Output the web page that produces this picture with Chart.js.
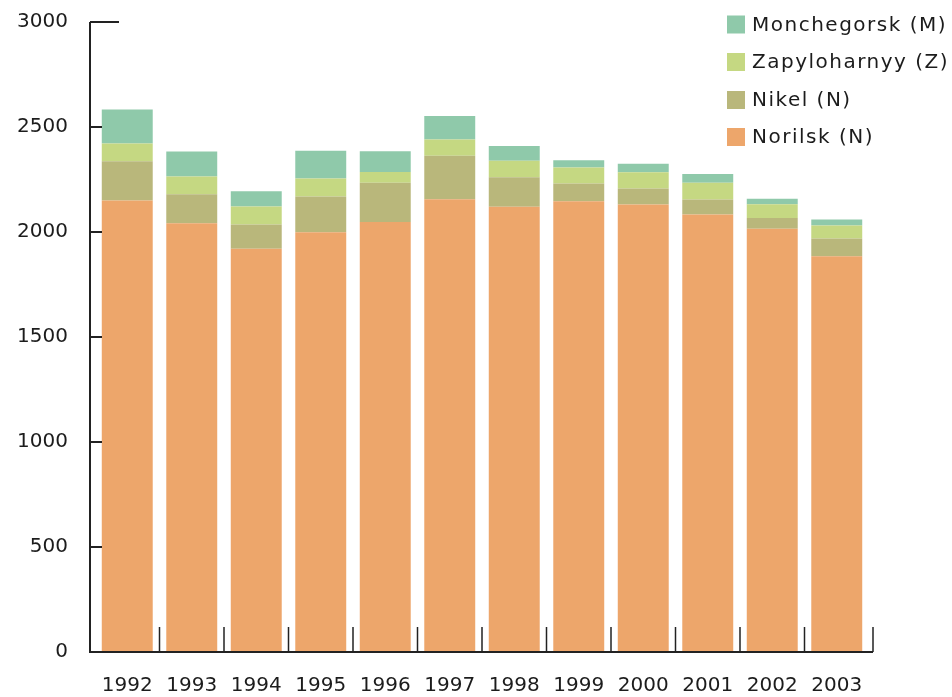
<!DOCTYPE html>
<html>
<head>
<meta charset="utf-8">
<script src="https://cdn.jsdelivr.net/npm/chart.js@4/dist/chart.umd.min.js"></script>
<style>
  body { margin: 0; background: #fff; }
  #wrap { width: 952px; height: 697px; position: relative; }
</style>
</head>
<body>
<div id="wrap"><canvas id="chart"></canvas></div>
<script>
// values
var years = ['1992', '1993', '1994', '1995', '1996', '1997', '1998', '1999', '2000', '2001', '2002', '2003'];
var norilsk = [2150, 2042, 1920, 1999, 2048, 2156, 2120, 2147, 2131, 2083, 2015, 1885];
var nikel = [187, 138, 116, 170, 186, 207, 141, 84, 76, 72, 52, 84];
var zapolyarny = [84, 84, 86, 86, 52, 78, 78, 76, 78, 80, 65, 62];
var monchegorsk = [162, 119, 72, 132, 98, 111, 70, 35, 40, 41, 26, 29];
var yTicks = [0, 500, 1000, 1500, 2000, 2500, 3000];

var seriesNames = ['Norilsk (N)', 'Nikel (N)', 'Zapyloharnyy (Z)', 'Monchegorsk (M)'];
var seriesColors = ['#eda66b', '#b9b77b', '#c5d882', '#8fc9aa'];
var seriesData = [norilsk, nikel, zapolyarny, monchegorsk];

var FONT = 'DejaVu Sans';
var INK = '#1c1c1c';

var datasets = seriesData.map(function (d, i) {
  return {
    label: seriesNames[i],
    data: d,
    backgroundColor: seriesColors[i],
    borderWidth: 0,
    barPercentage: 0.79,
    categoryPercentage: 1
  };
});

// axis lines + ticks like the original (inside ticks, open frame)
var axesPlugin = {
  id: 'axes',
  afterDatasetsDraw: function (chart) {
    var ctx = chart.ctx, a = chart.chartArea;
    var y = chart.scales.y;
    var left = a.left - 5, bottom = a.bottom, right = a.right + 4;
    ctx.save();
    ctx.strokeStyle = '#222';
    ctx.lineWidth = 2;
    ctx.beginPath();
    ctx.moveTo(left, y.getPixelForValue(3000));
    ctx.lineTo(left, bottom);
    ctx.lineTo(right, bottom);
    ctx.stroke();
    // y ticks
    yTicks.forEach(function (v) {
      if (v === 0) return;
      var py = Math.round(y.getPixelForValue(v));
      ctx.beginPath();
      ctx.moveTo(left, py);
      ctx.lineTo(v === 3000 ? left + 29 : left + 12, py);
      ctx.stroke();
    });
    // x ticks between categories
    ctx.lineWidth = 1.5;
    var step = (a.right - a.left) / years.length;
    for (var i = 1; i <= years.length; i++) {
      var px = i === years.length ? right : a.left + step * i;
      ctx.beginPath();
      ctx.moveTo(px, bottom);
      ctx.lineTo(px, bottom - 25);
      ctx.stroke();
    }
    ctx.restore();
  }
};

// legend in the top-right corner, top item = top of the stack
var legendPlugin = {
  id: 'cornerLegend',
  afterDraw: function (chart) {
    var ctx = chart.ctx;
    var rows = [24.5, 62, 100, 137];
    ctx.save();
    ctx.font = '20px "' + FONT + '"';
    ctx.textBaseline = 'middle';
    ctx.textAlign = 'left';
    if ('letterSpacing' in ctx) ctx.letterSpacing = '1.5px';
    for (var k = 0; k < 4; k++) {
      var i = 3 - k;
      ctx.fillStyle = seriesColors[i];
      ctx.fillRect(727, rows[k] - 9, 18, 18);
      ctx.fillStyle = INK;
      ctx.fillText(seriesNames[i], 752, rows[k] + 1);
    }
    ctx.restore();
  }
};

new Chart(document.getElementById('chart'), {
  type: 'bar',
  data: { labels: years, datasets: datasets },
  options: {
    responsive: true,
    maintainAspectRatio: false,
    animation: false,
    layout: { padding: { left: 0, top: 22, right: 83, bottom: 0 } },
    plugins: {
      legend: { display: false },
      tooltip: { enabled: false }
    },
    scales: {
      x: {
        stacked: true,
        grid: { display: false, drawTicks: false },
        border: { display: false },
        ticks: {
          color: INK,
          font: { family: FONT, size: 20 },
          padding: 22,
          maxRotation: 0,
          autoSkip: false
        },
        afterFit: function (s) { s.height = 45; }
      },
      y: {
        stacked: true,
        min: 0,
        max: 3000,
        // invisible tick marks only push the labels out to the left
        grid: { display: false, drawTicks: true, tickLength: 22 },
        border: { display: false },
        ticks: {
          stepSize: 500,
          color: INK,
          font: { family: FONT, size: 20 },
          padding: 5,
          callback: function (v) { return String(v); }
        },
        afterFit: function (s) { s.width = 95; }
      }
    }
  },
  plugins: [axesPlugin, legendPlugin]
});
</script>
</body>
</html>
